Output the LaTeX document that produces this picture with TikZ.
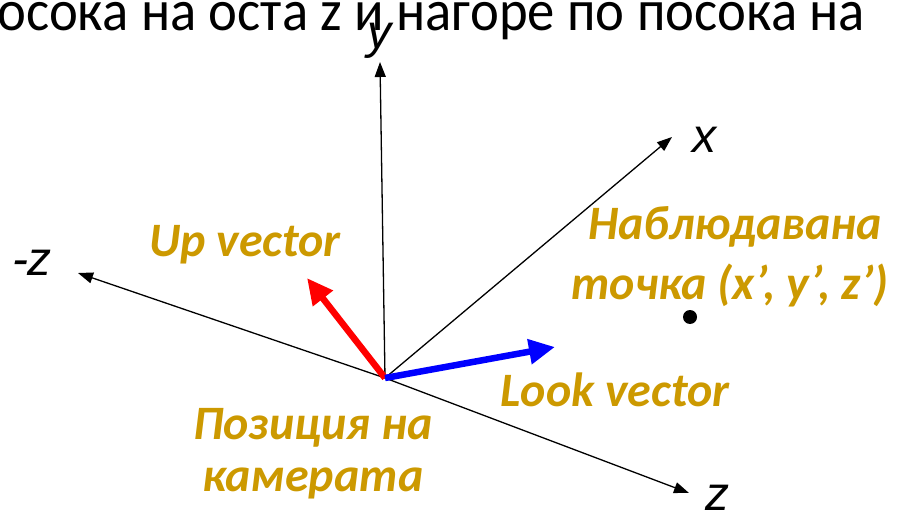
\documentclass[tikz,border=0pt]{standalone}
\usepackage{fontspec}
\setmainfont{Carlito}
\newfontfamily\axfont{Liberation Sans}
\usetikzlibrary{arrows.meta}
\definecolor{gold}{RGB}{204,153,0}
\definecolor{vred}{RGB}{255,0,0}
\definecolor{vblue}{RGB}{0,0,255}
\tikzset{
  axis/.style={line width=1.3pt,-{Triangle[length=15pt,width=11pt]}},
  axlabel/.style={font=\axfont\fontsize{48}{48}\selectfont\itshape,inner sep=0pt},
  lab/.style={font=\fontsize{48}{52}\selectfont\bfseries\itshape,text=gold,inner sep=0pt,align=center},
  vec/.style={line width=6.5pt,-{Triangle[length=26pt,width=24pt]}}
}
\begin{document}
\begin{tikzpicture}[x=1pt,y=-1pt]
\useasboundingbox (0,0) rectangle (897,513);
\clip (0,0) rectangle (897,513);
\node[anchor=base west,inner sep=0pt,font=\fontsize{58}{58}\selectfont] (title) at (-3,31) {\scalebox{0.943}[1]{осока на оста z и нагоре по посока на}};
\coordinate (O) at (385,378);
\coordinate (ye) at (380,62);
\coordinate (xe) at (672,137);
\coordinate (mze) at (78,273);
\coordinate (ze) at (689,493);
\coordinate (up) at (307,278);
\coordinate (look) at (555,347);
\draw[axis] (O) -- (ye);
\draw[axis] (O) -- (xe);
\draw[axis] (O) -- (mze);
\draw[axis] (O) -- (ze);
\draw[vec,vred] (O) -- (up);
\draw[vec,vblue] (O) -- (look);
\node[axlabel,anchor=base] (ylab) at (379,49) {y};
\node[axlabel,anchor=base] (xlab) at (704,153) {x};
\node[axlabel,anchor=base] (mzlab) at (32,276) {-z};
\node[axlabel,anchor=base] (zlab) at (717,510) {z};
\fill (690,317) circle (7) node (pt) {};
\node[lab] (uplab) at (245,245) {Up vector};
\node[lab] (obs1) at (735,227) {Наблюдавана};
\node[lab] (obs2) at (730,285) {точка (x’, y’, z’)};
\node[lab] (looklab) at (615,390) {Look vector};
\node[lab] (pos1) at (313,428) {Позиция на};
\node[lab] (pos2) at (313,483) {камерата};
\end{tikzpicture}
\end{document}
